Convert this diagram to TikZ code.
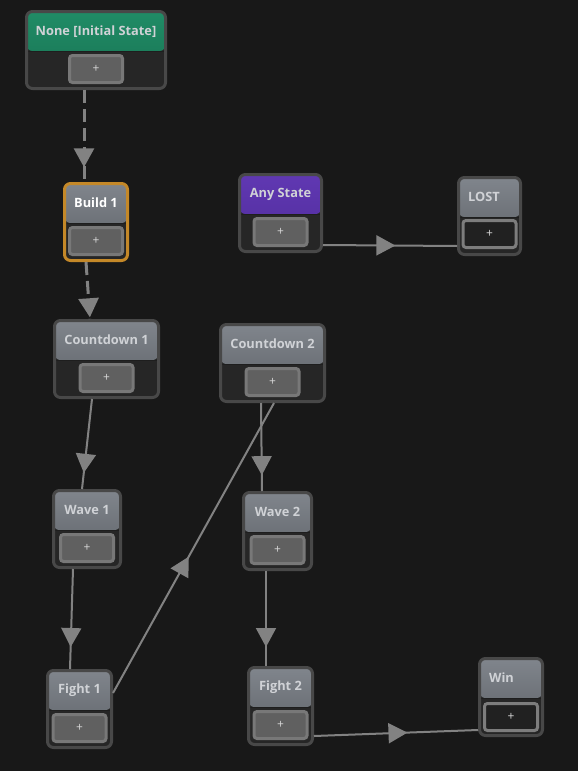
\documentclass[tikz,border=0pt]{standalone}
\usepackage{fontspec}
\setmainfont{Open Sans}
\usetikzlibrary{arrows.meta,decorations.markings}
\definecolor{bg}{RGB}{24,24,24}
\definecolor{frm}{RGB}{72,72,72}
\definecolor{body}{RGB}{38,38,38}
\definecolor{sep}{RGB}{30,30,30}
\definecolor{btnf}{RGB}{96,96,96}
\definecolor{btnb}{RGB}{120,120,120}
\definecolor{dbtnf}{RGB}{33,33,33}
\definecolor{dbtnb}{RGB}{125,125,125}
\definecolor{plusc}{RGB}{215,215,215}
\definecolor{lblc}{RGB}{208,210,214}
\definecolor{gtop}{RGB}{128,133,140}
\definecolor{gbot}{RGB}{92,96,102}
\definecolor{grtop}{RGB}{32,140,102}
\definecolor{grbot}{RGB}{24,114,82}
\definecolor{pptop}{RGB}{96,56,178}
\definecolor{ppbot}{RGB}{80,44,156}
\definecolor{orng}{RGB}{196,136,40}
\definecolor{conc}{RGB}{130,130,130}
\tikzset{
  stframe/.style={draw=frm, fill=body, line width=3pt, rounded corners=6pt,
    inner sep=0pt, outer sep=1.5pt, anchor=north west, minimum height=77pt},
  hdr/.style 2 args={path picture={
    \shade[top color=#1, bottom color=#2]
      (path picture bounding box.north west) rectangle
      ([yshift=-39.5pt]path picture bounding box.north east);
    \draw[sep, line width=1.5pt]
      ([yshift=-40pt]path picture bounding box.north west) --
      ([yshift=-40pt]path picture bounding box.north east);}},
  grey/.style={hdr={gtop}{gbot}},
  btn/.style={draw=btnb, fill=btnf, line width=3pt, rounded corners=3pt,
    minimum width=53pt, minimum height=27pt, inner sep=0pt, text=plusc,
    font=\fontsize{12}{12}\selectfont},
  dbtn/.style={btn, draw=dbtnb, fill=dbtnf},
  lbl/.style={text=lblc, font=\bfseries\fontsize{12.8}{13}\selectfont, inner sep=0pt},
  conn/.style={draw=conc, line width=2pt},
  dconn/.style={draw=conc, line width=3pt, dash pattern=on 13pt off 6pt},
  tipat/.style={postaction={decorate}, decoration={markings,
    mark=at position #1 with {\arrow[conc, solid]{Triangle[width=20pt,length=19pt]}}}},
}
\begin{document}
\begin{tikzpicture}[x=1pt, y=-1pt]
\fill[bg] (0,0) rectangle (578,771);
\useasboundingbox (0,0) rectangle (578,771);

% state nodes
\node[stframe, hdr={grtop}{grbot}, minimum width=139pt] (none) at (25,10) {};
\node[stframe, grey, draw=orng, minimum width=63pt] (build) at (63,182) {};
\node[stframe, hdr={pptop}{ppbot}, minimum width=82pt] (any) at (238,173) {};
\node[stframe, grey, minimum width=62pt] (lost) at (457,176) {};
\node[stframe, grey, minimum width=104pt] (cd1) at (53,319) {};
\node[stframe, grey, minimum width=104pt] (cd2) at (219,323) {};
\node[stframe, grey, minimum width=67pt] (wave1) at (52,489) {};
\node[stframe, grey, minimum width=68pt] (wave2) at (242,491) {};
\node[stframe, grey, minimum width=64pt] (fight1) at (46,669) {};
\node[stframe, grey, minimum width=64pt] (fight2) at (247,666) {};
\node[stframe, grey, minimum width=63pt] (win) at (478,657) {};

% labels
\node[lbl] (nonel) at ([yshift=-22pt]none.north) {None [Initial State]};
\node[lbl, text=white] (buildl) at ([yshift=-21pt]build.north) {Build 1};
\node[lbl] (anyl) at ([yshift=-21pt]any.north) {Any State};
\node[lbl, anchor=west] (lostl) at ([xshift=11pt,yshift=-21pt]lost.north west) {LOST};
\node[lbl] (cd1l) at ([yshift=-21pt]cd1.north) {Countdown 1};
\node[lbl] (cd2l) at ([yshift=-21pt]cd2.north) {Countdown 2};
\node[lbl] (wave1l) at ([yshift=-21pt]wave1.north) {Wave 1};
\node[lbl] (wave2l) at ([yshift=-21pt]wave2.north) {Wave 2};
\node[lbl] (fight1l) at ([yshift=-21pt]fight1.north) {Fight 1};
\node[lbl] (fight2l) at ([yshift=-21pt]fight2.north) {Fight 2};
\node[lbl, anchor=west] (winl) at ([xshift=11pt,yshift=-21pt]win.north west) {Win};

% buttons
\node[btn] (noneb) at ([yshift=-59pt]none.north) {+};
\node[btn] (buildb) at ([yshift=-59pt]build.north) {+};
\node[btn] (anyb) at ([yshift=-59pt]any.north) {+};
\node[dbtn] (lostb) at ([yshift=-58pt]lost.north) {+};
\node[btn] (cd1b) at ([yshift=-59pt]cd1.north) {+};
\node[btn] (cd2b) at ([yshift=-59pt]cd2.north) {+};
\node[btn] (wave1b) at ([yshift=-59pt]wave1.north) {+};
\node[btn] (wave2b) at ([yshift=-59pt]wave2.north) {+};
\node[btn] (fight1b) at ([yshift=-59pt]fight1.north) {+};
\node[btn] (fight2b) at ([yshift=-59pt]fight2.north) {+};
\node[dbtn] (winb) at ([yshift=-60pt]win.north) {+};

% connectors
\draw[dconn, tipat=0.84] ([xshift=-12pt]none.south) -- ([xshift=-12pt]build.north);
\draw[dconn, tipat=0.97] ([xshift=-10pt]build.south) -- ([xshift=-16.5pt]cd1.north);
\draw[conn, tipat=0.54] ([yshift=-72pt]any.north east) -- ([yshift=-70pt]lost.north west);
\draw[conn, tipat=0.82] ([xshift=-14.5pt]cd1.south) -- ([xshift=-5pt]wave1.north);
\draw[conn, tipat=0.82] ([xshift=-11.5pt]cd2.south) -- ([xshift=-15.5pt]wave2.north);
\draw[conn, tipat=0.47] ([yshift=-24pt]fight1.north east) -- ([xshift=1.5pt]cd2.south);
\draw[conn, tipat=0.78] ([xshift=-14pt]wave1.south) -- ([xshift=-9.5pt]fight1.north);
\draw[conn, tipat=0.80] ([xshift=-11.5pt]wave2.south) -- ([xshift=-14.5pt]fight2.north);
\draw[conn, tipat=0.57] ([yshift=-70pt]fight2.north east) -- ([yshift=-73pt]win.north west);
\end{tikzpicture}
\end{document}
